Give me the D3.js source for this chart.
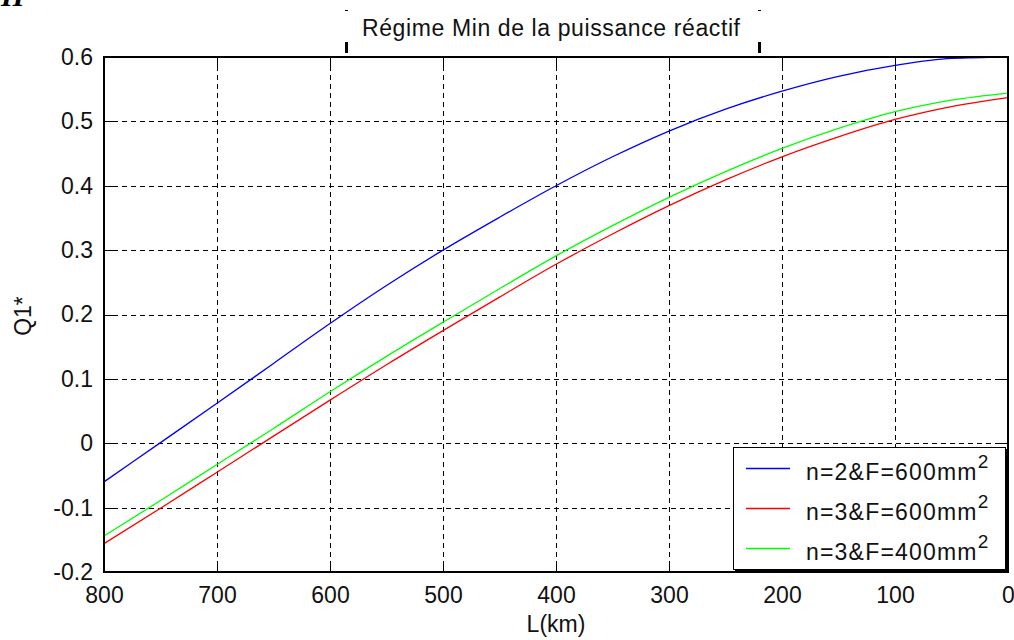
<!DOCTYPE html>
<html>
<head>
<meta charset="utf-8">
<script src="https://cdn.jsdelivr.net/npm/d3@7"></script>
<style>
  body { margin: 0; background: #fff; }
  text { font-family: "Liberation Sans", Arial, sans-serif; fill: #111; }
</style>
</head>
<body>
<svg id="chart" width="1014" height="640"></svg>
<script>
// Line length (km), from 800 down to 0
const lengthsKm = [800, 750, 700, 650, 600, 550, 500, 450, 400, 350, 300, 250, 200, 150, 100, 50, 0];
// Q1* for each configuration
const qN2F600 = [-0.060, 0.001, 0.062, 0.124, 0.186, 0.245, 0.300, 0.351, 0.400, 0.445, 0.485, 0.519, 0.547, 0.570, 0.587, 0.598, 0.600];
const qN3F600 = [-0.156, -0.101, -0.045, 0.011, 0.067, 0.122, 0.175, 0.227, 0.278, 0.325, 0.369, 0.409, 0.445, 0.476, 0.503, 0.523, 0.537];
const qN3F400 = [-0.144, -0.089, -0.033, 0.023, 0.080, 0.135, 0.188, 0.240, 0.291, 0.338, 0.382, 0.422, 0.458, 0.489, 0.515, 0.533, 0.544];

const seriesLabels = ["n=2&F=600mm", "n=3&F=600mm", "n=3&F=400mm"];
const seriesColors = ["#0000ff", "#ff0000", "#00ff00"];

const xTicks = [800, 700, 600, 500, 400, 300, 200, 100, 0];
const yTicks = [0.6, 0.5, 0.4, 0.3, 0.2, 0.1, 0, -0.1, -0.2];
const yTickLabels = ["0.6", "0.5", "0.4", "0.3", "0.2", "0.1", "0", "-0.1", "-0.2"];

const titleText = "Régime Min de la puissance réactif";
const xLabel = "L(km)";
const yLabel = "Q1*";

const svg = d3.select("#chart");
const box = { left: 104, right: 1008, top: 57, bottom: 572 };

const x = d3.scaleLinear().domain([800, 0]).range([box.left, box.right]);
const y = d3.scaleLinear().domain([-0.2, 0.6]).range([box.bottom, box.top]);

// heading fragment at the very top (cut by the page edge)
svg.append("text")
  .attr("x", 1).attr("y", 6)
  .style("font-family", "'Liberation Serif', serif")
  .style("font-weight", "bold").style("font-style", "italic")
  .style("font-size", "30px").style("fill", "#000")
  .text("II");

// grid
const grid = svg.append("g").attr("stroke", "#000").attr("stroke-width", 1)
  .attr("stroke-dasharray", "5,4").attr("shape-rendering", "crispEdges");
grid.selectAll("line.v").data(xTicks.slice(1, -1)).join("line")
  .attr("x1", d => Math.round(x(d)) + 0.5).attr("x2", d => Math.round(x(d)) + 0.5)
  .attr("y1", box.top).attr("y2", box.bottom);
grid.selectAll("line.h").data(yTicks.slice(1, -1)).join("line")
  .attr("y1", d => Math.round(y(d)) + 0.5).attr("y2", d => Math.round(y(d)) + 0.5)
  .attr("x1", box.left).attr("x2", box.right);

// inward ticks on all four sides
const tk = svg.append("g").attr("stroke", "#000").attr("stroke-width", 1).attr("shape-rendering", "crispEdges");
xTicks.forEach(d => {
  const px = Math.round(x(d)) + 0.5;
  tk.append("line").attr("x1", px).attr("x2", px).attr("y1", box.bottom).attr("y2", box.bottom - 9);
  tk.append("line").attr("x1", px).attr("x2", px).attr("y1", box.top).attr("y2", box.top + 9);
});
yTicks.forEach(d => {
  const py = Math.round(y(d)) + 0.5;
  tk.append("line").attr("y1", py).attr("y2", py).attr("x1", box.left).attr("x2", box.left + 9);
  tk.append("line").attr("y1", py).attr("y2", py).attr("x1", box.right).attr("x2", box.right - 9);
});

// curves
const series = [qN2F600, qN3F600, qN3F400];
const line = d3.line()
  .x((d, i) => x(lengthsKm[i]))
  .y(d => y(d))
  .curve(d3.curveMonotoneX);
series.forEach((vals, k) => {
  svg.append("path")
    .attr("d", line(vals))
    .attr("fill", "none")
    .attr("stroke", seriesColors[k])
    .attr("stroke-width", 1.3);
});

// axes (labels only)
const xAxis = svg.append("g").attr("transform", `translate(0,${box.bottom})`)
  .call(d3.axisBottom(x).tickValues(xTicks).tickFormat(d3.format("d")).tickSize(0).tickPadding(15));
const yAxis = svg.append("g").attr("transform", `translate(${box.left},0)`)
  .call(d3.axisLeft(y).tickValues(yTicks).tickFormat((d, i) => yTickLabels[i]).tickSize(0).tickPadding(11));
[xAxis, yAxis].forEach(g => {
  g.select(".domain").remove();
  g.selectAll("text").style("font-family", "'Liberation Sans', Arial, sans-serif")
    .style("font-size", "23px").style("fill", "#111");
});

// axes box
svg.append("rect")
  .attr("x", box.left).attr("y", box.top)
  .attr("width", box.right - box.left).attr("height", box.bottom - box.top)
  .attr("fill", "none").attr("stroke", "#000").attr("stroke-width", 2);

// title with its small marks
svg.append("text").attr("x", 551).attr("y", 36).attr("text-anchor", "middle")
  .attr("textLength", 378).attr("lengthAdjust", "spacing")
  .style("font-size", "23px").text(titleText);
[346, 759].forEach(mx => {
  svg.append("rect").attr("x", mx - 1).attr("y", 10).attr("width", 3).attr("height", 1).attr("fill", "#000");
  svg.append("rect").attr("x", mx - 1).attr("y", 42).attr("width", 3).attr("height", 11).attr("fill", "#000");
});

// axis labels
svg.append("text").attr("x", 556).attr("y", 632).attr("text-anchor", "middle")
  .style("font-size", "23px").text(xLabel);
svg.append("text").attr("transform", "translate(31,316) rotate(-90)").attr("text-anchor", "middle")
  .style("font-size", "23px").text(yLabel);

// legend
const lg = { left: 733, top: 447, right: 1005, bottom: 569 };
svg.append("rect").attr("x", lg.left + 0.5).attr("y", lg.top + 0.5)
  .attr("width", lg.right - lg.left).attr("height", lg.bottom - lg.top)
  .attr("fill", "#fff").attr("stroke", "#000").attr("stroke-width", 1);
svg.append("line").attr("x1", lg.left + 2).attr("x2", lg.right + 2).attr("y1", lg.bottom + 1.5).attr("y2", lg.bottom + 1.5)
  .attr("stroke", "#000").attr("stroke-width", 2);
svg.append("line").attr("x1", lg.right + 1.5).attr("x2", lg.right + 1.5).attr("y1", lg.top + 2).attr("y2", lg.bottom + 2)
  .attr("stroke", "#000").attr("stroke-width", 2);
const rowY = d3.scalePoint().domain(seriesLabels).range([468, 548]);
seriesLabels.forEach((name, k) => {
  const ry = rowY(name);
  svg.append("line").attr("x1", 746).attr("x2", 790).attr("y1", ry + 0.5).attr("y2", ry + 0.5)
    .attr("stroke", seriesColors[k]).attr("stroke-width", 1.3);
  const t = svg.append("text").attr("x", 806).attr("y", ry + 12).style("font-size", "23px");
  t.append("tspan").style("letter-spacing", "1.2px").text(name);
  t.append("tspan").attr("dy", -12).style("font-size", "19px").text("2");
});
</script>
</body>
</html>
